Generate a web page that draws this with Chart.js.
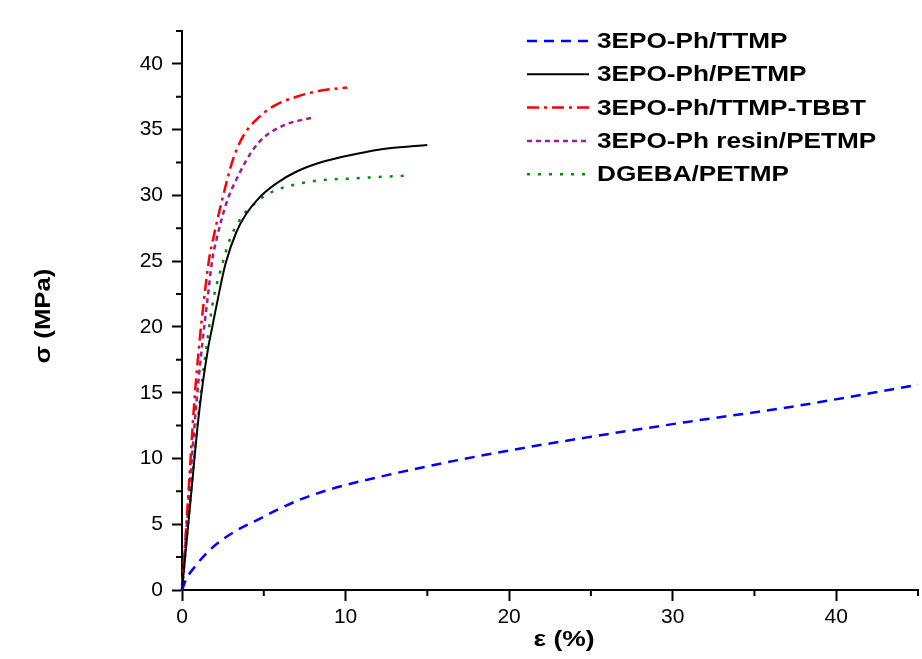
<!DOCTYPE html>
<html>
<head>
<meta charset="utf-8">
<script src="https://cdn.jsdelivr.net/npm/chart.js@4.4.1/dist/chart.umd.min.js"></script>
<style>
  html, body { margin: 0; padding: 0; background: #fff; }
  #chart { display: block; }
</style>
</head>
<body>
<canvas id="chart" width="922" height="659"></canvas>
<script>
// stress-strain curves, strain in %, stress in MPa
var seriesNames = ['3EPO-Ph/TTMP', '3EPO-Ph/PETMP', '3EPO-Ph/TTMP-TBBT', '3EPO-Ph resin/PETMP', 'DGEBA/PETMP']

var strainTTMP = [0, 0.25, 0.77, 1.9, 3.3, 4.74, 5.75, 7.07, 9.08, 12.96, 18.95, 24.95, 30.9, 37.2, 45]
var stressTTMP = [0, 0.8, 1.75, 3.27, 4.5, 5.4, 6.05, 6.8, 7.66, 8.85, 10.37, 11.64, 12.78, 13.92, 15.6]

var strainPETMP = [0, 0.5, 1.0, 1.3, 1.6, 1.85, 2.26, 2.66, 3.32, 3.93, 4.74, 5.75, 6.98, 8.6, 10.63, 12.66, 15]
var stressPETMP = [0, 6.5, 13, 16, 18.4, 20.0, 22.55, 24.8, 27.2, 28.6, 29.85, 30.9, 31.8, 32.56, 33.15, 33.58, 33.84]

var strainTBBT = [0, 0.4, 0.73, 1.04, 1.34, 1.65, 1.89, 2.5, 3.11, 3.72, 4.5, 5.55, 7.0, 8.6, 10.1]
var stressTBBT = [0, 7.5, 13.9, 18.5, 22.0, 25.1, 26.6, 29.9, 32.7, 34.47, 35.7, 36.75, 37.5, 38.0, 38.2]

var strainResin = [0, 0.45, 0.88, 1.24, 1.55, 1.85, 2.1, 2.71, 3.52, 4.3, 5.0, 6.37, 7.93]
var stressResin = [0, 7.5, 14.2, 18.7, 22.0, 25.1, 26.6, 29.4, 31.7, 33.4, 34.4, 35.4, 35.9]

var strainDGEBA = [0, 0.5, 1.14, 1.55, 1.95, 2.36, 2.91, 3.62, 4.29, 4.98, 5.75, 7.18, 8.6, 10.63, 12.0, 13.7]
var stressDGEBA = [0, 6.8, 14.9, 19.0, 22.3, 24.3, 26.6, 28.3, 29.2, 29.9, 30.4, 30.9, 31.17, 31.3, 31.4, 31.5]

var xTicks = [0, 10, 20, 30, 40]
var yTicks = [0, 5, 10, 15, 20, 25, 30, 35, 40]

var FONT = "'Liberation Sans', Arial, sans-serif"
Chart.defaults.font.family = FONT
Chart.defaults.color = '#000'

function pairs(xs, ys) {
  return xs.map(function (v, i) { return { x: v, y: ys[i] } })
}

function curve(i, xs, ys, color, dash, width) {
  return {
    label: seriesNames[i],
    data: pairs(xs, ys),
    borderColor: color,
    backgroundColor: color,
    borderWidth: width,
    borderDash: dash,
    pointRadius: 0,
    showLine: true,
    fill: false,
    cubicInterpolationMode: 'monotone',
    clip: 4
  }
}

var datasets = [
  curve(0, strainTTMP, stressTTMP, '#0000ff', [10, 7], 2.5),
  curve(1, strainPETMP, stressPETMP, '#000000', [], 2),
  curve(2, strainTBBT, stressTBBT, '#ff0000', [12, 5, 3, 5], 2.5),
  curve(3, strainResin, stressResin, '#9c1c9c', [5, 4], 2.5),
  curve(4, strainDGEBA, stressDGEBA, '#009000', [3, 8], 2.5)
]

// text stretched along its own direction
function wideText(ctx, text, x, y, sx, rot) {
  ctx.save()
  ctx.translate(x, y)
  if (rot) ctx.rotate(rot)
  ctx.scale(sx, 1)
  ctx.fillText(text, 0, 0)
  ctx.restore()
}

var decorations = {
  id: 'decorations',
  afterDraw: function (chart) {
    var ctx = chart.ctx, a = chart.chartArea
    var xs = chart.scales.x, ys = chart.scales.y
    ctx.save()

    // minor ticks
    ctx.strokeStyle = '#000'
    ctx.lineWidth = 2
    ctx.beginPath()
    for (var v = 5; v <= 45; v += 10) {
      var px = xs.getPixelForValue(v)
      ctx.moveTo(px, a.bottom)
      ctx.lineTo(px, a.bottom + 6)
    }
    for (var w = 2.5; w <= 42.5; w += 5) {
      var py = ys.getPixelForValue(w)
      ctx.moveTo(a.left, py)
      ctx.lineTo(a.left - 6, py)
    }
    ctx.stroke()

    // legend
    ctx.fillStyle = '#000'
    ctx.font = 'bold 22px ' + FONT
    ctx.textAlign = 'left'
    ctx.textBaseline = 'middle'
    chart.data.datasets.forEach(function (ds, i) {
      var ly = 41 + i * 33.3
      ctx.save()
      ctx.strokeStyle = ds.borderColor
      ctx.lineWidth = ds.borderWidth
      ctx.setLineDash(ds.borderDash)
      ctx.beginPath()
      ctx.moveTo(527, ly)
      ctx.lineTo(589, ly)
      ctx.stroke()
      ctx.restore()
      wideText(ctx, ds.label, 597, ly + 1, 1.19)
    })

    // axis titles
    ctx.textAlign = 'center'
    ctx.font = 'bold 22px ' + FONT
    wideText(ctx, 'ε (%)', 564, 640, 1.2)
    wideText(ctx, 'σ (MPa)', 44, 316, 1.17, -Math.PI / 2)

    ctx.restore()
  }
}

var chart = new Chart(document.getElementById('chart').getContext('2d'), {
  type: 'scatter',
  data: { datasets: datasets },
  options: {
    responsive: false,
    animation: false,
    layout: { padding: { top: 31, right: 4, left: 0, bottom: 0 } },
    plugins: {
      legend: { display: false },
      tooltip: { enabled: false }
    },
    scales: {
      x: {
        type: 'linear',
        min: 0,
        max: 45,
        afterFit: function (s) { s.height = 69 },
        afterBuildTicks: function (s) { s.ticks = xTicks.map(function (v) { return { value: v } }) },
        ticks: { font: { size: 21 }, color: '#000', padding: 4, includeBounds: false },
        grid: { drawOnChartArea: false, color: '#000', tickLength: 11, tickWidth: 2 },
        border: { color: '#000', width: 2 }
      },
      y: {
        type: 'linear',
        min: 0,
        max: 42.5,
        afterFit: function (s) { s.width = 182 },
        afterBuildTicks: function (s) { s.ticks = yTicks.map(function (v) { return { value: v } }) },
        ticks: { font: { size: 21 }, color: '#000', padding: 9, includeBounds: false },
        grid: { drawOnChartArea: false, color: '#000', tickLength: 10, tickWidth: 2 },
        border: { color: '#000', width: 2 }
      }
    }
  },
  plugins: [decorations]
})
</script>
</body>
</html>
